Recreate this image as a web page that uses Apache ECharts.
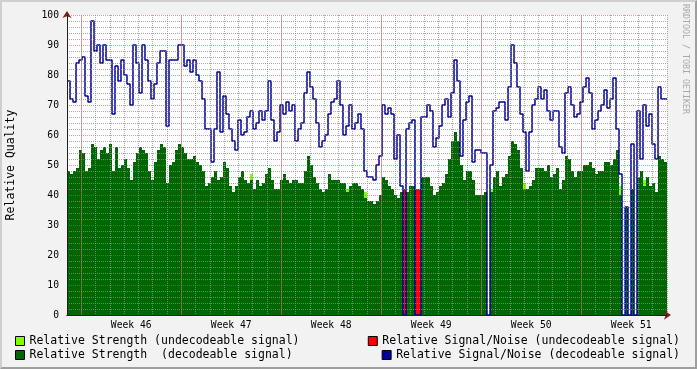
<!DOCTYPE html>
<html><head><meta charset="utf-8">
<script src="https://cdn.jsdelivr.net/npm/echarts@6/dist/echarts.min.js"></script>
<style>
html,body{margin:0;padding:0;background:#F2F2F2;}
#wrap{position:relative;width:697px;height:369px;overflow:hidden;}
#chart{position:absolute;left:0;top:0;width:697px;height:369px;}
#frame{position:absolute;left:0;top:0;width:697px;height:369px;box-sizing:border-box;border-top:2px solid #CFCFCF;border-left:2px solid #CFCFCF;border-right:2px solid #9E9E9E;border-bottom:2px solid #9E9E9E;pointer-events:none;}
#wm{position:absolute;left:681px;top:4px;writing-mode:vertical-rl;font-family:'DejaVu Sans Mono';font-size:8.3px;line-height:10px;color:#A8A8A8;white-space:pre;}
</style></head><body>
<div id="wrap"><div id="chart"></div><div id="frame"></div><div id="wm">RRDTOOL / TOBI OETIKER</div></div>
<script>
// ---- data (one sample per ~5 h, 6 weeks) ----
const strengthDecoded = [
 48,47,48,49,55,54,48,49,57,56,
 52,55,56,54,57,48,56,49,50,52,
 49,45,51,54,56,55,54,48,45,51,
 55,57,56,44,50,51,55,57,56,54,
 52,52,53,51,50,48,43,44,46,48,
 45,46,51,49,43,41,43,46,48,45,
 44,45,42,45,43,44,47,49,45,42,
 42,45,47,45,44,45,45,44,44,48,
 53,50,46,44,42,41,42,47,45,45,
 45,44,44,41,43,44,44,43,42,39,
 38,38,37,38,40,46,45,43,42,40,
 39,41,0,41,43,43,0,0,46,46,
 46,43,40,41,43,44,47,52,58,61,
 58,50,45,48,48,45,40,40,40,41,
 0,41,46,48,43,46,47,53,58,57,
 55,49,42,42,43,45,49,49,49,48,
 50,46,47,49,42,45,53,52,48,46,
 48,48,50,50,51,49,47,48,48,51,
 51,50,52,55,40,0,36,0,42,0,
 46,48,43,46,43,44,41,53,52,51
];
const strengthUndecoded = [
 0,0,0,0,0,0,0,0,0,0,
 0,0,0,0,0,0,0,0,0,0,
 0,0,0,0,0,0,0,0,0,0,
 0,0,0,0,0,0,0,0,0,0,
 0,0,0,0,0,0,0,0,0,0,
 0,0,0,0,0,0,0,0,0,0,
 0,2,0,0,0,0,0,0,0,0,
 0,0,0,0,0,0,0,0,0,0,
 0,0,0,0,0,0,0,0,0,0,
 0,0,0,1,0,0,0,0,0,2,
 0,0,0,0,0,0,0,0,0,0,
 0,0,0,0,0,0,0,0,0,0,
 0,0,0,0,0,0,0,0,0,0,
 0,0,0,0,0,0,0,0,0,0,
 0,1,0,0,0,0,0,0,0,0,
 0,0,2,0,0,0,0,0,0,0,
 0,0,0,0,0,0,0,0,0,0,
 0,0,0,0,0,0,0,0,0,0,
 0,0,0,0,3,0,0,0,0,0,
 0,0,2,0,0,0,0,0,0,0
];
const snrDecoded = [
 78,72,71,84,85,86,73,71,98,88,
 90,84,90,85,85,67,83,78,85,80,
 77,70,90,84,74,90,85,78,72,77,
 84,88,88,63,85,85,85,90,90,83,
 85,81,85,80,78,72,62,62,51,62,
 81,61,73,67,62,58,55,65,60,61,
 66,68,62,64,68,65,68,78,65,58,
 61,70,67,71,68,70,58,62,64,74,
 81,76,72,64,56,58,60,67,71,72,
 78,70,60,63,70,62,64,67,62,48,
 46,46,45,50,53,70,67,69,67,52,
 60,43,0,62,64,65,0,0,66,66,
 70,68,56,59,63,70,72,66,74,85,
 78,53,65,71,73,51,55,55,54,54,
 0,50,68,69,71,71,65,76,90,84,
 76,67,61,48,61,70,72,76,72,75,
 68,65,68,68,56,54,74,76,70,66,
 67,71,76,79,74,62,65,68,70,75,
 69,72,79,62,47,0,36,0,57,0,
 68,52,70,63,67,57,52,76,72,72
];
const snrUndecoded = [
 0,0,0,0,0,0,0,0,0,0,
 0,0,0,0,0,0,0,0,0,0,
 0,0,0,0,0,0,0,0,0,0,
 0,0,0,0,0,0,0,0,0,0,
 0,0,0,0,0,0,0,0,0,0,
 0,0,0,0,0,0,0,0,0,0,
 0,0,0,0,0,0,0,0,0,0,
 0,0,0,0,0,0,0,0,0,0,
 0,0,0,0,0,0,0,0,0,0,
 0,0,0,0,0,0,0,0,0,0,
 0,0,0,0,0,0,0,0,0,0,
 0,0,42,0,0,0,42,42,0,0,
 0,0,0,0,0,0,0,0,0,0,
 0,0,0,0,0,0,0,0,0,0,
 0,0,0,0,0,0,0,0,0,0,
 0,0,0,0,0,0,0,0,0,0,
 0,0,0,0,0,0,0,0,0,0,
 0,0,0,0,0,0,0,0,0,0,
 0,0,0,0,0,0,0,0,0,0,
 0,0,0,0,0,0,0,0,0,0
];
const weekLabels = ['Week 46','Week 47','Week 48','Week 49','Week 50','Week 51'];
const weekStartDays = [1, 8, 15, 22, 29, 36];
const DAYS_PER_WEEK = 7;
const yTicks = [0,10,20,30,40,50,60,70,80,90,100];
const TOTAL_DAYS = 42;

const N_STR_UND = 'Relative Strength (undecodeable signal)';
const N_STR_DEC = 'Relative Strength  (decodeable signal)';
const N_SN_UND = 'Relative Signal/Noise (undecodeable signal)';
const N_SN_DEC = 'Relative Signal/Noise (decodeable signal)';

const N = snrDecoded.length;
const times = snrDecoded.map((_, i) => i * TOTAL_DAYS / N);
function pairs(arr) {
  const d = arr.map((v, i) => [times[i], v]);
  d.push([TOTAL_DAYS, arr[arr.length - 1]]);
  return d;
}
const strengthTop = strengthDecoded.map((v, i) => v + strengthUndecoded[i]);

const MONO = 'DejaVu Sans Mono';
const GRID_COL = 'rgba(143,143,143,0.75)';
const MGRID_COL = 'rgba(222,79,79,0.6)';
const AXIS_COL = '#1F1F1F';
const ARROW_COL = '#801F1F';

const PLOT_L = 67, PLOT_W = 600, PLOT_T = 15, PLOT_H = 300, W = 697, H = 369;

const chart = echarts.init(document.getElementById('chart'), null, {renderer: 'canvas'});
const legendText = {fontFamily: MONO, fontSize: 11.5, color: '#000', lineHeight: 14};
function legItem(name, color) {
  return {name: name, icon: 'rect', itemStyle: {color: color, borderColor: '#000', borderWidth: 1}};
}
chart.setOption({
  animation: false,
  backgroundColor: '#F2F2F2',
  grid: {left: PLOT_L, right: W - PLOT_L - PLOT_W, top: PLOT_T, bottom: H - PLOT_T - PLOT_H,
     show: true, backgroundColor: '#FFFFFF', borderWidth: 0, containLabel: false, outerBoundsMode: 'none'},
  xAxis: [
    {
      type: 'value', position: 'bottom', min: 0, max: TOTAL_DAYS, interval: 0.5, z: 7,
      axisLine: {show: true, onZero: false, lineStyle: {color: AXIS_COL, width: 1}},
      axisTick: {show: false}, splitLine: {show: false},
      axisLabel: {
        fontFamily: MONO, fontSize: 9.7, color: '#000', margin: 5,
        showMinLabel: false, showMaxLabel: false,
        formatter: function (v) {
          for (let k = 0; k < weekLabels.length; k++) {
            if (Math.abs(v - (weekStartDays[k] + DAYS_PER_WEEK / 2)) < 1e-6) return weekLabels[k];
          }
          return '';
        }
      }
    },
    {
      type: 'value', position: 'top', offset: -PLOT_H, min: 0, max: TOTAL_DAYS, interval: 1, z: 5,
      axisLine: {show: true, onZero: false, symbol: ['none', 'arrow'], symbolSize: [7, 7], symbolOffset: [0, 4], lineStyle: {color: ARROW_COL, width: 1}},
      axisTick: {show: false}, axisLabel: {show: false},
      splitLine: {show: true, lineStyle: {color: GRID_COL, type: [1, 1], width: 1}}
    }
  ],
  yAxis: [
    {
      type: 'value', position: 'left', min: 0, max: 100, interval: 10, z: 7,
      axisLine: {show: true, onZero: false, lineStyle: {color: AXIS_COL, width: 1}},
      axisTick: {show: false},
      axisLabel: {fontFamily: MONO, fontSize: 9.7, color: '#000', margin: 8,
        formatter: function (v) { return yTicks.indexOf(v) >= 0 ? String(v) : ''; }},
      splitLine: {show: true, lineStyle: {color: MGRID_COL, type: [1, 1], width: 1}},
      minorTick: {show: false, splitNumber: 5},
      minorSplitLine: {show: true, lineStyle: {color: GRID_COL, type: [1, 1], width: 1}},
      name: 'Relative Quality', nameLocation: 'middle', nameGap: 50, nameRotate: 90,
      nameTextStyle: {fontFamily: MONO, fontSize: 11.5, color: '#000'}
    },
    {
      type: 'value', position: 'right', offset: -PLOT_W, min: 0, max: 100, interval: 10, z: 5,
      axisLine: {show: true, onZero: false, symbol: ['none', 'arrow'], symbolSize: [7, 7], symbolOffset: [0, 4], lineStyle: {color: ARROW_COL, width: 1}},
      axisTick: {show: false}, axisLabel: {show: false}, splitLine: {show: false}
    }
  ],
  legend: [
    {left: 15, top: 334, orient: 'vertical', padding: 0, itemGap: 0, itemWidth: 9, itemHeight: 9,
     selectedMode: false, textStyle: legendText,
     data: [legItem(N_STR_UND, '#80FF00'), legItem(N_STR_DEC, '#006600')]},
    {right: 17, top: 334, orient: 'vertical', padding: 0, itemGap: 0, itemWidth: 9, itemHeight: 9,
     selectedMode: false, textStyle: legendText,
     data: [legItem(N_SN_UND, '#FF0000')]},
    {right: 17, top: 348, orient: 'vertical', padding: 0, itemGap: 0, itemWidth: 9, itemHeight: 9,
     selectedMode: false, textStyle: legendText,
     data: [legItem(N_SN_DEC, '#000099')]}
  ],
  series: [
    {name: N_STR_UND, type: 'line', step: 'end', data: pairs(strengthTop),
     symbol: 'none', lineStyle: {width: 0}, itemStyle: {color: '#80FF00'},
     areaStyle: {color: '#80FF00', opacity: 1}, z: 2, silent: true},
    {name: N_STR_DEC, type: 'line', step: 'end', data: pairs(strengthDecoded),
     symbol: 'none', lineStyle: {width: 0}, itemStyle: {color: '#006600'},
     areaStyle: {color: '#006600', opacity: 1}, z: 2, silent: true},
    {name: N_SN_UND, type: 'line', step: 'end', data: pairs(snrUndecoded),
     symbol: 'none', lineStyle: {width: 0}, itemStyle: {color: '#FF0000'},
     areaStyle: {color: '#FF0000', opacity: 1}, z: 2, silent: true},
    {name: N_SN_DEC, type: 'line', step: 'end', data: pairs(snrDecoded),
     symbol: 'none', lineStyle: {width: 1.5, color: '#000099'}, itemStyle: {color: '#000099'},
     z: 3, silent: true},
    {name: 'weekgrid', type: 'line', data: [], z: 9, silent: true,
     markLine: {silent: true, symbol: 'none', label: {show: false},
       lineStyle: {color: MGRID_COL, type: [1, 1], width: 1},
       data: weekStartDays.map(d => ({xAxis: d}))}}
  ]
});
</script>
</body></html>
